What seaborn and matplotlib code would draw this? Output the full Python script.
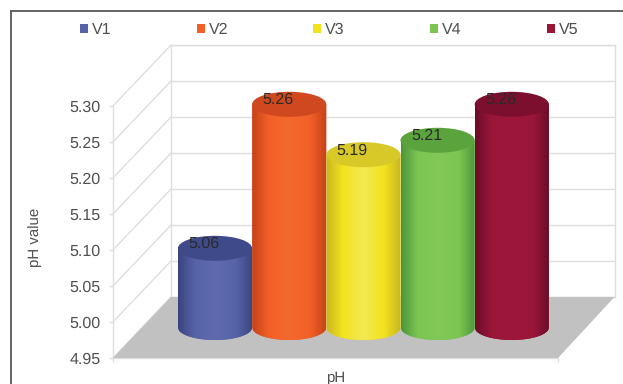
import numpy as np
import matplotlib
matplotlib.use("Agg")
import matplotlib.pyplot as plt
from matplotlib.colors import LinearSegmentedColormap
from matplotlib.lines import Line2D
from matplotlib.patches import Ellipse, Patch, Polygon
from matplotlib.path import Path
import seaborn as sns

varieties = ["V1", "V2", "V3", "V4", "V5"]
ph_values = [5.06, 5.26, 5.19, 5.21, 5.26]
y_ticks = [4.95, 5.00, 5.05, 5.10, 5.15, 5.20, 5.25, 5.30]
main_colors = ["#5763a7", "#f26027", "#f2e21e", "#7cc552", "#9a1639"]
edge_colors = ["#39447f", "#c5421a", "#c9b61f", "#4c963a", "#6a0d27"]
light_colors = ["#5f6bae", "#f4692e", "#f3ea52", "#82c958", "#9e173b"]
cap_colors = ["#3f4a8b", "#d0481f", "#d8c928", "#5ba43d", "#7c0f2d"]

W, H = 623, 384
GRID = "#dedede"
TEXT = "#505050"

sns.set_theme(style="white")
plt.rcParams["font.family"] = ["Liberation Sans", "DejaVu Sans"]
plt.rcParams["text.hinting"] = "no_hinting"
plt.rcParams["text.hinting_factor"] = 1
fig = plt.figure(figsize=(W / 100, H / 100), dpi=100)
fig.patch.set_facecolor("white")

# Pixel geometry of the box: front plane, back plane and the plane through the bars
FRONT_L, FRONT_R, FRONT_BASE = 113, 558, 358
BACK_L, BACK_R, BACK_BASE = 171, 614.5, 297
PX_PER_UNIT = 36 / 0.05
FIRST_CENTER, STEP = 215.0, 74.2
MID_BASE = (FRONT_BASE + BACK_BASE) / 2
BASE_VALUE, TOP_VALUE = y_ticks[0], y_ticks[-1]


def rect(x0, x1, y_base, y_top):
    return [x0 / W, 1 - y_base / H, (x1 - x0) / W, (y_base - y_top) / H]


# Front axis with the value scale
ax_front = fig.add_axes(rect(FRONT_L, FRONT_R, FRONT_BASE, FRONT_BASE - 252))
ax_front.patch.set_alpha(0)
ax_front.set_xlim(0, 1)
ax_front.set_ylim(BASE_VALUE, TOP_VALUE)
ax_front.set_yticks(y_ticks, [f"{t:.2f}" for t in y_ticks])
ax_front.set_xticks([0, 1], ["", ""])
ax_front.tick_params(axis="both", length=3, width=1, color=GRID, labelcolor=TEXT,
                     labelsize=11.5, pad=6, left=True, bottom=True)
for side in ("top", "right"):
    ax_front.spines[side].set_visible(False)
for side in ("left", "bottom"):
    ax_front.spines[side].set_color(GRID)
    ax_front.spines[side].set_linewidth(1)
ax_front.set_xlabel("pH", fontsize=11, color=TEXT)
ax_front.xaxis.set_label_coords(0.5, -0.05)
ax_front.set_ylabel("pH value", fontsize=11, color=TEXT)
ax_front.yaxis.set_label_coords(-0.159, 0.48)

# Back wall with horizontal gridlines
ax_back = fig.add_axes(rect(BACK_L, BACK_R, BACK_BASE, BACK_BASE - 252))
ax_back.patch.set_alpha(0)
ax_back.set_xlim(0, 1)
ax_back.set_ylim(BASE_VALUE, TOP_VALUE)
ax_back.set_yticks(y_ticks)
ax_back.set_xticks([])
ax_back.tick_params(left=False, labelleft=False)
ax_back.grid(axis="y", color=GRID, linewidth=1)
for spine in ax_back.spines.values():
    spine.set_color(GRID)
    spine.set_linewidth(1)

# Full-figure axes: x in category positions, y in pH on the plane through the bars
ax = fig.add_axes([0, 0, 1, 1], zorder=5)
ax.patch.set_alpha(0)
sns.barplot(x=varieties, y=ph_values, hue=varieties, palette=main_colors,
            width=1, legend=False, errorbar=None, ax=ax, saturation=1)
xlim = (-FIRST_CENTER / STEP, (W - FIRST_CENTER) / STEP)
ylim = (BASE_VALUE - (H - MID_BASE) / PX_PER_UNIT, BASE_VALUE + MID_BASE / PX_PER_UNIT)
ax.set_xlim(xlim)
ax.set_ylim(ylim)
ax.axis("off")


def px_x(px):
    return (px - FIRST_CENTER) / STEP


depth_y = (FRONT_BASE - MID_BASE) / PX_PER_UNIT

# Floor of the box
ax.add_patch(Polygon(
    [(px_x(FRONT_L), BASE_VALUE - depth_y), (px_x(FRONT_R), BASE_VALUE - depth_y),
     (px_x(BACK_R), BASE_VALUE + depth_y), (px_x(BACK_L), BASE_VALUE + depth_y)],
    closed=True, facecolor="#c1c1c1", edgecolor="none", zorder=1))

# Side wall lines joining the front scale to the back wall
for t in y_ticks:
    ax.plot([px_x(FRONT_L), px_x(BACK_L)], [t - depth_y, t + depth_y],
            color=GRID, linewidth=1, zorder=0.5)

# Turn each bar into a shaded cylinder
cap_half = 12.5 / PX_PER_UNIT
theta = np.linspace(np.pi, 2 * np.pi, 80)
for i, patch in enumerate(ax.patches[:]):
    if i >= len(varieties):
        break
    x0, width, value = patch.get_x(), patch.get_width(), patch.get_height()
    center = x0 + width / 2
    low_x = center + width / 2 * np.cos(theta)
    low_y = BASE_VALUE + cap_half * np.sin(theta)
    outline = np.vstack([np.column_stack([low_x, low_y]),
                         [x0 + width, value], [x0, value], [low_x[0], low_y[0]]])
    body = Path(outline, closed=True)
    z = 3 + i * 0.1
    patch.set_clip_path(body, ax.transData)
    patch.set_zorder(z)
    shade = LinearSegmentedColormap.from_list(
        f"shade_{i}",
        [(0, edge_colors[i]), (0.22, main_colors[i]), (0.5, light_colors[i]),
         (0.78, main_colors[i]), (1, edge_colors[i])])
    img = ax.imshow(np.linspace(0, 1, 128)[None, :], cmap=shade, aspect="auto",
                    extent=(x0, x0 + width, BASE_VALUE - cap_half, value),
                    origin="lower", zorder=z, interpolation="bilinear")
    img.set_clip_path(body, ax.transData)
    ax.add_patch(Ellipse((center, value), width, 2 * cap_half,
                         facecolor=cap_colors[i], edgecolor="none", zorder=z + 0.01))
    ax.annotate(f"{value:.2f}", (center, value), xytext=(-8, 3),
                textcoords="offset points", ha="center", va="center",
                fontsize=11.5, color="#2a2a2a", zorder=6)
ax.set_xlim(xlim)
ax.set_ylim(ylim)

# Legend row across the top
handles = [Patch(facecolor=c, edgecolor="none", label=v)
           for c, v in zip(main_colors, varieties)]
fig.legend(handles=handles, loc="center", bbox_to_anchor=(329 / W, 1 - 30 / H), ncol=5,
           frameon=False, fontsize=11.5, labelcolor=TEXT, handlelength=0.5,
           handleheight=0.5, handletextpad=0.25, columnspacing=5.33,
           borderpad=0, borderaxespad=0)

# Frame open on the right and bottom
frame = "#585858"
fig.add_artist(Line2D([11 / W, 11 / W], [0, 1 - 11 / H], color=frame, linewidth=1.3))
fig.add_artist(Line2D([11 / W, 1], [1 - 11 / H, 1 - 11 / H], color=frame, linewidth=1.3))

fig.savefig("out.png", dpi=100)
